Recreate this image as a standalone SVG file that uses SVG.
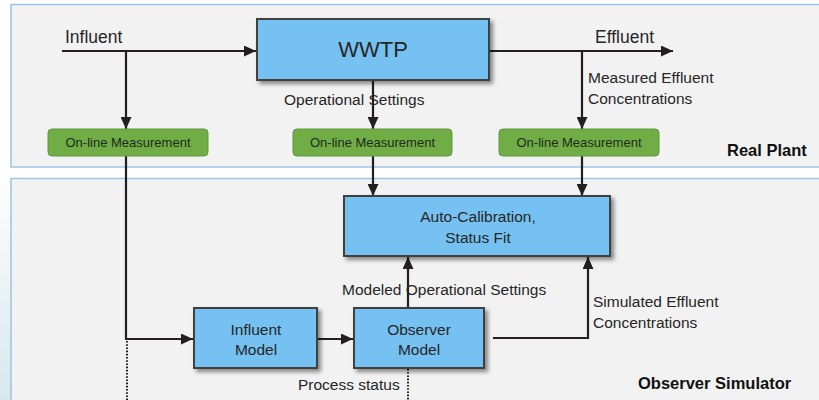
<svg xmlns="http://www.w3.org/2000/svg" width="819" height="400" viewBox="0 0 819 400">
  <defs>
    <linearGradient id="edge" x1="0" y1="0" x2="0" y2="1">
      <stop offset="0" stop-color="#ffffff"/>
      <stop offset="1" stop-color="#d8e7ee"/>
    </linearGradient>
    <filter id="shadow" x="-10%" y="-20%" width="125%" height="150%">
      <feDropShadow dx="3" dy="3" stdDeviation="2" flood-color="#000" flood-opacity="0.45"/>
    </filter>
    <marker id="arrow" markerUnits="userSpaceOnUse" markerWidth="13" markerHeight="11" refX="12" refY="5.5" orient="auto">
      <path d="M0,0 L12,5.5 L0,11 z" fill="#231f20"/>
    </marker>
    <style>
      .panel { fill: #f2f2f2; stroke: #9dc3e6; stroke-width: 1.5; }
      .box { fill: #74c1f1; stroke: #404040; stroke-width: 2; filter: url(#shadow); }
      .green { fill: #70ad47; stroke: #5e9a3b; stroke-width: 1; }
      .t { font-family: "Liberation Sans", Arial, sans-serif; fill: #262626; }
      .lbl { font-size: 15.5px; }
      .gt { font-size: 13px; text-anchor: middle; fill: #1f2a18; }
      .bt { font-size: 15.5px; text-anchor: middle; }
      .bold { font-size: 16.5px; font-weight: bold; fill: #111; }
      .c { fill: none; stroke: #231f20; stroke-width: 2.2; }
      .dot { fill: none; stroke: #231f20; stroke-width: 2; stroke-dasharray: 1.6 1.6; }
    </style>
  </defs>

  <rect x="0" y="0" width="819" height="400" fill="#ffffff"/>
  <rect x="0" y="170" width="11" height="230" fill="url(#edge)"/>

  <g id="real-plant">
    <rect class="panel" x="11" y="4.5" width="812" height="162.5"/>
    <text class="t bold" x="727" y="156">Real Plant</text>
  </g>
  <g id="observer-simulator">
    <rect class="panel" x="11" y="178.5" width="812" height="225"/>
    <text class="t bold" x="638" y="389">Observer Simulator</text>
  </g>

  <g id="connectors">
    <path class="c" d="M62,51 H256" marker-end="url(#arrow)"/>
    <path class="c" d="M126,51 V129" marker-end="url(#arrow)"/>
    <path class="c" d="M373,81 V129" marker-end="url(#arrow)"/>
    <path class="c" d="M490,51 H673" marker-end="url(#arrow)"/>
    <path class="c" d="M582,51 V129" marker-end="url(#arrow)"/>
    <path class="c" d="M126,156 V339 H193" marker-end="url(#arrow)"/>
    <path class="c" d="M373,156 V196" marker-end="url(#arrow)"/>
    <path class="c" d="M582,156 V196" marker-end="url(#arrow)"/>
    <path class="c" d="M318,339 H353" marker-end="url(#arrow)"/>
    <path class="c" d="M408,308 V257" marker-end="url(#arrow)"/>
    <path class="c" d="M493,338 H588 V257" marker-end="url(#arrow)"/>
    <path class="dot" d="M127,341 V400"/>
    <path class="dot" d="M408,369 V400"/>
    <text class="t" x="65" y="43" font-size="17.5">Influent</text>
    <text class="t" x="595" y="43" font-size="17.5">Effluent</text>
    <text class="t lbl" x="284" y="105">Operational Settings</text>
    <text class="t lbl" x="588" y="83">Measured Effluent</text>
    <text class="t lbl" x="588" y="104">Concentrations</text>
    <text class="t lbl" x="342" y="295">Modeled Operational Settings</text>
    <text class="t lbl" x="593" y="307">Simulated Effluent</text>
    <text class="t lbl" x="593" y="328">Concentrations</text>
    <text class="t lbl" x="298" y="390">Process status</text>
  </g>

  <g id="wwtp">
    <rect class="box" x="257" y="19" width="232" height="61"/>
    <text class="t" x="373" y="57" font-size="22" text-anchor="middle">WWTP</text>
  </g>

  <g id="measurement-influent">
    <rect class="green" x="48" y="129" width="160" height="27" rx="4"/>
    <text class="t gt" x="128" y="147">On-line Measurement</text>
  </g>
  <g id="measurement-settings">
    <rect class="green" x="293" y="129" width="159" height="27" rx="4"/>
    <text class="t gt" x="372.5" y="147">On-line Measurement</text>
  </g>
  <g id="measurement-effluent">
    <rect class="green" x="499" y="129" width="160" height="27" rx="4"/>
    <text class="t gt" x="579" y="147">On-line Measurement</text>
  </g>

  <g id="auto-calibration">
    <rect class="box" x="344" y="196" width="266" height="60"/>
    <text class="t bt" x="478" y="222">Auto-Calibration,</text>
    <text class="t bt" x="478" y="243">Status Fit</text>
  </g>

  <g id="influent-model">
    <rect class="box" x="194" y="308" width="123" height="60"/>
    <text class="t bt" x="256" y="335">Influent</text>
    <text class="t bt" x="256" y="355">Model</text>
  </g>

  <g id="observer-model">
    <rect class="box" x="354" y="308" width="130" height="60"/>
    <text class="t bt" x="419" y="335">Observer</text>
    <text class="t bt" x="419" y="355">Model</text>
  </g>
</svg>
